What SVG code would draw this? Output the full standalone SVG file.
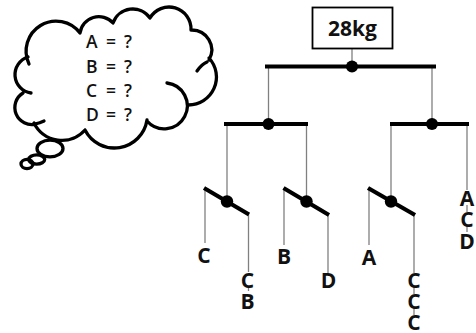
<svg xmlns="http://www.w3.org/2000/svg" width="476" height="333" viewBox="0 0 476 333">
<style>
.cloud{fill:none;stroke:#000;stroke-width:3.3;stroke-linecap:round}
.bar{stroke:#000;stroke-width:4.2;stroke-linecap:butt}
.thin{stroke:#808080;stroke-width:1.3;fill:none}
.dot{fill:#000}
.lbl{font-family:"Open Sans","DejaVu Sans",sans-serif;font-weight:700;font-size:21px;fill:#111;text-anchor:middle}
.q{font-family:"Open Sans","DejaVu Sans",sans-serif;font-weight:600;font-size:17.5px;fill:#111}
</style>
<rect width="476" height="333" fill="#fff"/>
<g id="cloud">
<path class="cloud" d="M29,64 A30,30 0 0 1 80,33 M80,33 A19,19 0 0 1 113,23 M113,23 A21,21 0 0 1 150,18 M150,18 A22,22 0 0 1 191,30 M191,30 A20,20 0 0 1 209,60 M209,58 A28,28 0 0 1 188,105 M167,83 A23,23 0 1 1 147,121 M147,120 A33,33 0 0 1 85,130 M85,130 A31,31 0 0 1 34,123 M36,124 A17,17 0 0 1 23,93 M31,93 A18.5,18.5 0 0 1 28,57"/>
<path class="cloud" d="M207,62 Q202,64 197,71 M35,124 Q40,123 44,121"/>
<ellipse class="cloud" cx="50" cy="148.5" rx="13" ry="8.3"/>
<ellipse class="cloud" cx="36.7" cy="159.5" rx="8" ry="4.6"/>
<ellipse class="cloud" cx="27" cy="164" rx="6" ry="4.6"/>
<text class="q" x="86 98 106 118 124" y="48">A = ?</text>
<text class="q" x="86 98 106 118 124" y="72.5">B = ?</text>
<text class="q" x="86 98 106 118 124" y="96.5">C = ?</text>
<text class="q" x="86 98 106 118 124" y="120.5">D = ?</text>
</g>
<g id="connectors">
<line class="thin" x1="352" y1="48.5" x2="352" y2="66"/>
<line class="thin" x1="268.5" y1="67" x2="268.5" y2="124"/>
<line class="thin" x1="432" y1="67" x2="432" y2="124"/>
<line class="thin" x1="227" y1="124" x2="227" y2="201"/>
<line class="thin" x1="306.5" y1="124" x2="306.5" y2="201"/>
<line class="thin" x1="391" y1="124" x2="391" y2="201"/>
<line class="thin" x1="467" y1="124" x2="467" y2="190"/>
<line class="thin" x1="467" y1="205" x2="467" y2="212"/>
<line class="thin" x1="467" y1="226" x2="467" y2="232"/>
<line class="thin" x1="205" y1="188" x2="205" y2="243"/>
<line class="thin" x1="248.5" y1="214" x2="248.5" y2="272"/>
<line class="thin" x1="248.5" y1="286" x2="248.5" y2="291"/>
<line class="thin" x1="284" y1="188" x2="284" y2="245"/>
<line class="thin" x1="328" y1="215" x2="328" y2="273"/>
<line class="thin" x1="369" y1="188" x2="369" y2="245"/>
<line class="thin" x1="414" y1="215" x2="414" y2="273"/>
<line class="thin" x1="414" y1="287" x2="414" y2="294"/>
<line class="thin" x1="414" y1="308" x2="414" y2="315"/>
</g>
<g id="weight">
<rect x="312.5" y="7.5" width="80" height="41" fill="#fff" stroke="#000" stroke-width="1.8"/>
<text class="lbl" x="352.5" y="35.5">28kg</text>
</g>
<g id="top-bar">
<line class="bar" x1="265" y1="66.5" x2="436" y2="66.5"/>
<circle class="dot" cx="352" cy="66.5" r="6"/>
</g>
<g id="mid-left-bar">
<line class="bar" x1="224" y1="124" x2="308" y2="124"/>
<circle class="dot" cx="268.5" cy="124" r="6"/>
</g>
<g id="mid-right-bar">
<line class="bar" x1="390" y1="124" x2="469" y2="124"/>
<circle class="dot" cx="432" cy="124" r="6"/>
</g>
<g id="tilt-1">
<line class="bar" x1="204" y1="188" x2="249" y2="214.5"/>
<circle class="dot" cx="227" cy="201.5" r="6.2"/>
</g>
<g id="tilt-2">
<line class="bar" x1="283.5" y1="188" x2="329" y2="215"/>
<circle class="dot" cx="306.5" cy="201.5" r="6.2"/>
</g>
<g id="tilt-3">
<line class="bar" x1="368" y1="188" x2="415" y2="215"/>
<circle class="dot" cx="391" cy="201.5" r="6.2"/>
</g>
<g id="labels">
<text class="lbl" x="204" y="263">C</text>
<text class="lbl" x="247.5" y="287.5">C</text>
<text class="lbl" x="247.5" y="309">B</text>
<text class="lbl" x="284" y="264">B</text>
<text class="lbl" x="328.5" y="288">D</text>
<text class="lbl" x="369" y="265">A</text>
<text class="lbl" x="414" y="288">C</text>
<text class="lbl" x="414" y="309">C</text>
<text class="lbl" x="414" y="330">C</text>
<text class="lbl" x="467" y="206">A</text>
<text class="lbl" x="467" y="227">C</text>
<text class="lbl" x="467" y="248.5">D</text>
</g>
</svg>
